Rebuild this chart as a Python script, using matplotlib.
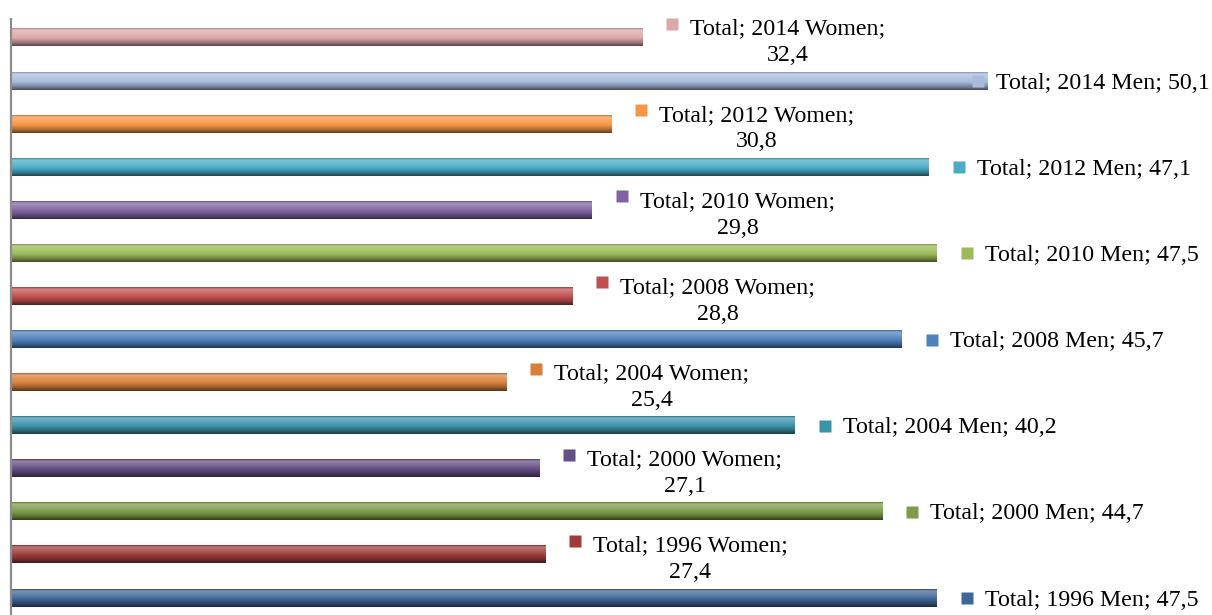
import numpy as np
import matplotlib
matplotlib.use("Agg")
import matplotlib.pyplot as plt
from matplotlib.colors import to_rgb
from matplotlib.transforms import offset_copy

# Share of votes by survey year and gender (bottom to top: 1996 ... 2014)
years = ["1996", "2000", "2004", "2008", "2010", "2012", "2014"]
men = [47.5, 44.7, 40.2, 45.7, 47.5, 47.1, 50.1]
women = [27.4, 27.1, 25.4, 28.8, 29.8, 30.8, 32.4]
men_colors = ["#3F6698", "#7E9B48", "#3B93A8", "#4F81BD", "#9BBB59", "#4BACC6", "#A9BCDD"]
women_colors = ["#9E3C3A", "#654F84", "#D8803A", "#C0504D", "#8064A2", "#F79646", "#DCA8A7"]

plt.rcParams["font.family"] = ["Liberation Serif", "DejaVu Serif"]

W, H, DPI = 1212, 615, 100
fig = plt.figure(figsize=(W / DPI, H / DPI), dpi=DPI)
ax = fig.add_axes([0, 0, 1, 1])
ax.set_axis_off()

XLIM = (-0.5644, 61.62)
YLIM = (-0.3946, 13.881)
BAR_H = 0.395
FONT_SIZE = 17.2


def mix(c, other, t):
    c = np.array(c)
    return c * (1 - t) + np.array(other) * t


def gradient(color, n=48):
    c = np.array(to_rgb(color))
    white, black = np.ones(3), np.zeros(3)
    stops = [(0.0, mix(c, black, 0.20)),
             (0.10, mix(c, white, 0.30)),
             (0.30, mix(c, white, 0.18)),
             (0.55, c),
             (0.80, mix(c, black, 0.28)),
             (1.0, mix(c, black, 0.58))]
    pos = np.array([s[0] for s in stops])
    cols = np.array([s[1] for s in stops])
    t = np.linspace(0, 1, n)
    img = np.stack([np.interp(t, pos, cols[:, k]) for k in range(3)], axis=1)
    return img[:, None, :]


# Interleave men/women per year
series = []
for k, yr in enumerate(years):
    series.append((f"Total; {yr} Men; {str(men[k]).replace('.', ',')}", men[k], men_colors[k], False))
    series.append((f"Total; {yr} Women;\n{str(women[k]).replace('.', ',')}", women[k], women_colors[k], True))

labels = []
for i, (text, val, col, two_line) in enumerate(series):
    ax.imshow(gradient(col), extent=[0, val, i - BAR_H / 2, i + BAR_H / 2],
              aspect="auto", interpolation="bilinear", zorder=2)
    sq_dy = 14 if two_line else 0
    sq_tr = offset_copy(ax.transData, fig=fig, x=30, y=sq_dy, units="dots")
    (sq,) = ax.plot([val], [i], marker="s", ms=8.6, color=col, mec="none",
                    transform=sq_tr, zorder=4, linestyle="none")
    txt_dy = -4.5 if two_line else -2
    txt_tr = offset_copy(ax.transData, fig=fig, x=48, y=txt_dy, units="dots")
    t = ax.text(val, i, text, transform=txt_tr, ha="left", va="center",
                multialignment="center", fontsize=FONT_SIZE, color="black",
                linespacing=1.36, zorder=5)
    labels.append((t, sq, val, i, sq_dy, txt_dy))

# Vertical axis line
top_axis = YLIM[1] - (18 / H) * (YLIM[1] - YLIM[0])
ax.plot([0, 0], [YLIM[0], top_axis], color="#8C8C8C", lw=1.6, zorder=3,
        solid_capstyle="butt")

ax.set_xlim(*XLIM)
ax.set_ylim(*YLIM)

# Pull labels back inside the canvas if they run past the right edge
fig.canvas.draw()
renderer = fig.canvas.get_renderer()
for t, sq, val, i, sq_dy, txt_dy in labels:
    bb = t.get_window_extent(renderer)
    over = bb.x1 - (W - 2)
    if over > 0:
        t.set_transform(offset_copy(ax.transData, fig=fig, x=48 - over, y=txt_dy, units="dots"))
        sq.set_transform(offset_copy(ax.transData, fig=fig, x=30 - over, y=sq_dy, units="dots"))

fig.savefig("out.png", dpi=DPI)
